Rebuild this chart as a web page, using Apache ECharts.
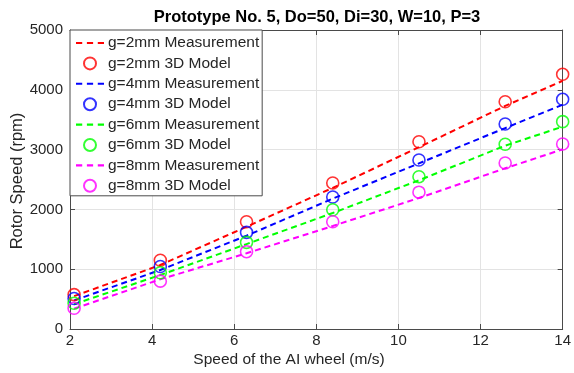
<!DOCTYPE html>
<html>
<head>
<meta charset="utf-8">
<script src="https://cdn.jsdelivr.net/npm/echarts@6/dist/echarts.min.js"></script>
<style>
html,body{margin:0;padding:0;background:#fff;}
#chart{width:574px;height:373px;}
</style>
</head>
<body>
<div id="chart"></div>
<script>
// ---- data ----
var speeds = [2.1, 4.2, 6.3, 8.4, 10.5, 12.6, 14];
var meas2  = [550, 1070, 1710, 2360, 3040, 3730, 4150];
var model2 = [575, 1150, 1794, 2441, 3132, 3801, 4259];
var meas4  = [478, 987, 1560, 2180, 2770, 3360, 3750];
var model4 = [510, 1045, 1616, 2207, 2826, 3428, 3841];
var meas6  = [415, 903, 1420, 1940, 2487, 3066, 3383];
var model6 = [430, 941, 1449, 1995, 2547, 3089, 3467];
var meas8  = [340, 831, 1266, 1722, 2191, 2687, 3005];
var model8 = [346, 800, 1293, 1794, 2288, 2776, 3094];
var seriesNames = ['g=2mm Measurement','g=2mm 3D Model','g=4mm Measurement','g=4mm 3D Model',
                   'g=6mm Measurement','g=6mm 3D Model','g=8mm Measurement','g=8mm 3D Model'];
var colors = ['#ff0000','#0000ff','#00ff00','#ff00ff'];
var xTicks = [2, 14, 2];      // min, max, interval
var yTicks = [0, 5000, 1000]; // min, max, interval

function pairs(ys){ return speeds.map(function(x,i){ return [x, ys[i]]; }); }

var measSets = [meas2, meas4, meas6, meas8];
var modelSets = [model2, model4, model6, model8];
var series = [];
for (var k = 0; k < 4; k++) {
  series.push({
    name: seriesNames[2*k], type: 'line', data: pairs(measSets[k]),
    symbol: 'none', showSymbol: false, z: 2,
    lineStyle: {color: colors[k], width: 2, type: [6, 4]},
    itemStyle: {color: colors[k]}
  });
  series.push({
    name: seriesNames[2*k+1], type: 'scatter', data: pairs(modelSets[k]),
    symbol: 'circle', symbolSize: 12, z: 3,
    itemStyle: {color: 'rgba(255,255,255,0)', borderColor: colors[k], borderWidth: 1.6}
  });
}

var dashIcon = 'path://M0,0H6V2H0Z M10.5,0H16.5V2H10.5Z M21,0H27V2H21Z';
var legendData = seriesNames.map(function(n, i){
  return (i % 2 === 0) ? {name: n, icon: dashIcon} : {name: n};
});

var axisColor = '#4a4a4a';
var textColor = '#262626';
var font = 'Liberation Sans, Arial, Helvetica, sans-serif';

var chart = echarts.init(document.getElementById('chart'), null, {renderer: 'canvas'});
chart.setOption({
  animation: false,
  backgroundColor: '#ffffff',
  grid: {left: 70, right: 8, top: 30, bottom: 44, containLabel: false},
  xAxis: [{
    type: 'value', min: xTicks[0], max: xTicks[1], interval: xTicks[2], position: 'bottom',
    axisLine: {show: true, onZero: false, lineStyle: {color: axisColor, width: 1}},
    axisTick: {show: true, inside: true, length: 5, lineStyle: {color: axisColor}},
    axisLabel: {show: true, color: textColor, fontSize: 15, fontFamily: font, margin: 4},
    splitLine: {show: true, lineStyle: {color: '#e3e3e3', width: 1}}
  }, {
    type: 'value', min: xTicks[0], max: xTicks[1], interval: xTicks[2], position: 'top',
    axisLine: {show: true, onZero: false, lineStyle: {color: axisColor, width: 1}},
    axisTick: {show: true, inside: true, length: 5, lineStyle: {color: axisColor}},
    axisLabel: {show: false}, splitLine: {show: false}
  }],
  yAxis: [{
    type: 'value', min: yTicks[0], max: yTicks[1], interval: yTicks[2], position: 'left',
    axisLine: {show: true, onZero: false, lineStyle: {color: axisColor, width: 1}},
    axisTick: {show: true, inside: true, length: 5, lineStyle: {color: axisColor}},
    axisLabel: {show: true, color: textColor, fontSize: 15, fontFamily: font, margin: 7,
                formatter: function(v){ return String(v); }},
    splitLine: {show: true, lineStyle: {color: '#e3e3e3', width: 1}}
  }, {
    type: 'value', min: yTicks[0], max: yTicks[1], interval: yTicks[2], position: 'right',
    axisLine: {show: true, onZero: false, lineStyle: {color: axisColor, width: 1}},
    axisTick: {show: true, inside: true, length: 5, lineStyle: {color: axisColor}},
    axisLabel: {show: false}, splitLine: {show: false}
  }],
  legend: {
    orient: 'vertical', left: 70, top: 30,
    data: legendData,
    backgroundColor: '#ffffff', borderColor: axisColor, borderWidth: 1, borderRadius: 0,
    padding: [5, 3, 2, 6], itemGap: 4.4, itemWidth: 28, itemHeight: 12,
    textStyle: {color: textColor, fontSize: 15.5, fontFamily: font, padding: [0,0,0,-1]},
    z: 10
  },
  graphic: [
    {type: 'text', x: 317, y: 17, z: 20,
     style: {text: 'Prototype No. 5, Do=50, Di=30, W=10, P=3', fill: '#000',
             font: 'bold 16.5px ' + font, align: 'center', verticalAlign: 'middle',
             textAlign: 'center', textVerticalAlign: 'middle'}},
    {type: 'text', x: 289, y: 360, z: 20,
     style: {text: 'Speed of the AI wheel (m/s)', fill: textColor,
             font: '15.5px ' + font, align: 'center', verticalAlign: 'middle',
             textAlign: 'center', textVerticalAlign: 'middle'}},
    {type: 'text', x: 17, y: 181, rotation: Math.PI / 2, z: 20,
     style: {text: 'Rotor Speed (rpm)', fill: textColor,
             font: '16.5px ' + font, align: 'center', verticalAlign: 'middle',
             textAlign: 'center', textVerticalAlign: 'middle'}}
  ],
  series: series
});
</script>
</body>
</html>
